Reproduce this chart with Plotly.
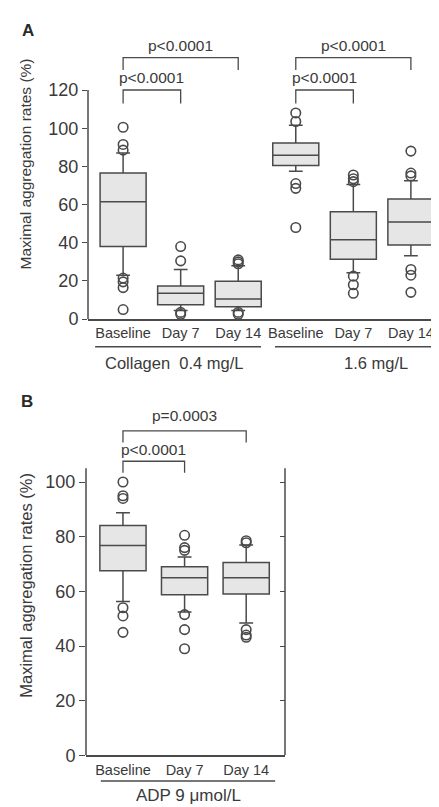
import plotly.graph_objects as go

# ---------------- data ----------------
A_labels = ["Baseline", "Day 7", "Day 14", "Baseline", "Day 7", "Day 14"]
A_q1 = [38.0, 7.5, 6.5, 80.5, 31.3, 38.8]
A_median = [61.5, 13.5, 10.5, 85.8, 41.5, 50.8]
A_q3 = [76.5, 17.3, 19.8, 92.3, 56.2, 62.9]
A_lowerfence = [23.0, 4.5, 4.5, 77.5, 24.3, 33.2]
A_upperfence = [87.0, 26.0, 28.0, 101.5, 70.5, 72.5]
A_outliers = [
    [100.5, 91.5, 88.5, 21.5, 19.5, 16.5, 5.0],
    [38.0, 30.5, 3.5, 2.5],
    [29.0, 30.0, 31.0, 3.5, 2.5],
    [108.0, 103.5, 71.0, 68.5, 48.0],
    [72.0, 73.5, 75.5, 22.5, 18.0, 13.5],
    [75.0, 76.5, 88.0, 26.0, 23.0, 14.0],
]
A_groups = ["Collagen  0.4 mg/L", "1.6 mg/L"]
A_compare = [(0, 1, "p<0.0001"), (0, 2, "p<0.0001"), (3, 4, "p<0.0001"), (3, 5, "p<0.0001")]
A_yticks = [0, 20, 40, 60, 80, 100, 120]

B_labels = ["Baseline", "Day 7", "Day 14"]
B_q1 = [67.5, 58.8, 59.0]
B_median = [76.8, 65.0, 65.0]
B_q3 = [84.1, 69.0, 70.6]
B_lowerfence = [56.3, 52.4, 48.4]
B_upperfence = [88.8, 72.6, 77.0]
B_outliers = [
    [100.0, 95.0, 94.0, 54.0, 51.0, 45.0],
    [80.5, 76.0, 75.0, 51.5, 46.0, 39.0],
    [78.5, 77.8, 46.0, 44.0, 43.2],
]
B_group = "ADP 9 \u03bcmol/L"
B_compare = [(0, 1, "p<0.0001"), (0, 2, "p=0.0003")]
B_yticks = [0, 20, 40, 60, 80, 100]

# ---------------- styles ----------------
W, H = 439, 807
FONT = "Liberation Sans, Arial, sans-serif"
INK = "#4a4a4a"
TXT = "#3a3a3a"
FILL = "#e6e6e6"


def py(px):  # pixel row -> paper y
    return 1 - px / H


def px_x(px):  # pixel column -> paper x
    return px / W


fig = go.Figure()

A_pos = list(range(len(A_labels)))
B_pos = list(range(len(B_labels)))


def add_boxes(pos, q1, med, q3, lo, hi, outl, xa, ya, ya_overlay, width):
    for i, p in enumerate(pos):
        fig.add_trace(go.Box(
            x=[p], q1=[q1[i]], median=[med[i]], q3=[q3[i]],
            lowerfence=[lo[i]], upperfence=[hi[i]],
            width=width, whiskerwidth=0.3, boxpoints=False,
            fillcolor=FILL, line=dict(color=INK, width=1.5),
            xaxis=xa, yaxis=ya, hoverinfo="skip",
        ))
    xs, ys = [], []
    for i, p in enumerate(pos):
        xs += [p] * len(outl[i])
        ys += outl[i]
    fig.add_trace(go.Scatter(
        x=xs, y=ys, mode="markers",
        marker=dict(symbol="circle-open", size=9.5, color=INK, line=dict(width=1.6, color=INK)),
        xaxis=xa, yaxis=ya_overlay, hoverinfo="skip",
    ))


add_boxes(A_pos, A_q1, A_median, A_q3, A_lowerfence, A_upperfence, A_outliers, "x", "y", "y3", 0.8)
add_boxes(B_pos, B_q1, B_median, B_q3, B_lowerfence, B_upperfence, B_outliers, "x2", "y2", "y4", 0.75)

tickfont = dict(family=FONT, size=18, color=TXT)
xtickfont = dict(family=FONT, size=14.5, color=TXT)

A_yrange = [0, 146]
B_yrange = [0, 128]

fig.update_layout(
    width=W, height=H,
    margin=dict(l=0, r=0, t=0, b=0),
    paper_bgcolor="white", plot_bgcolor="white",
    showlegend=False,
    xaxis=dict(domain=[px_x(80), px_x(438)], range=[-0.61, 5.61], anchor="y",
               tickvals=A_pos, ticktext=A_labels, ticks="", tickfont=xtickfont,
               showline=True, linecolor=INK, linewidth=1.5, showgrid=False, zeroline=False,
               ticklabelstandoff=0),
    yaxis=dict(domain=[py(315), py(32.8)], range=A_yrange, anchor="x",
               tickvals=A_yticks, ticks="outside", ticklen=5, tickwidth=1.3, tickcolor=INK,
               tickfont=tickfont, showgrid=False, zeroline=False, showline=False),
    yaxis3=dict(overlaying="y", side="right", anchor="x", range=A_yrange,
                tickvals=A_yticks, ticks="inside", ticklen=5, tickwidth=1.3, tickcolor=INK,
                showticklabels=False, showgrid=False, zeroline=False, showline=False),
    xaxis2=dict(domain=[px_x(78), px_x(277)], range=[-0.60, 2.63], anchor="y2",
                tickvals=B_pos, ticktext=B_labels, ticks="", tickfont=xtickfont,
                showline=True, linecolor=INK, linewidth=1.5, showgrid=False, zeroline=False,
                ticklabelstandoff=1),
    yaxis2=dict(domain=[py(756.7), py(402.5)], range=B_yrange, anchor="x2",
                tickvals=B_yticks, ticks="outside", ticklen=6, tickwidth=1.3, tickcolor=INK,
                tickfont=tickfont, showgrid=False, zeroline=False, showline=False),
    yaxis4=dict(overlaying="y2", side="right", anchor="x2", range=B_yrange,
                tickvals=B_yticks, ticks="inside", ticklen=5, tickwidth=1.3, tickcolor=INK,
                showticklabels=False, showgrid=False, zeroline=False, showline=False),
)

shapes = []
annotations = []

# spines (left and right), limited to the tick range
for xr, yr, top in [("x", "y", max(A_yticks)), ("x2", "y2", 105)]:
    for xd in (0, 1):
        shapes.append(dict(type="line", xref=f"{xr} domain", yref=yr, x0=xd, x1=xd, y0=0, y1=top,
                           line=dict(color=INK, width=1.5)))


def add_brackets(compare, xr, yr, levels, fs):
    for k, (i, j, txt) in enumerate(compare):
        top, leg, ty = levels[k]
        shapes.append(dict(type="path", xref=xr, yref=yr,
                           path=f"M {i},{leg} L {i},{top} L {j},{top} L {j},{leg}",
                           line=dict(color=INK, width=1.3)))
        annotations.append(dict(x=(i + j) / 2, y=ty, xref=xr, yref=yr, text=txt, showarrow=False,
                                font=dict(family=FONT, size=fs, color=TXT),
                                xanchor="center", yanchor="middle"))


add_brackets(A_compare, "x", "y", [(120, 113, 126.5), (137, 130.5, 143.3),
                                   (120, 113, 126.5), (137, 130.5, 143.3)], 15.5)
add_brackets(B_compare, "x2", "y2", [(107.6, 103.4, 111.9), (118.7, 114.5, 124.2)], 15.5)

# group underlines and labels
for x0, x1 in [(-0.486, 2.396), (2.639, 5.434)]:
    shapes.append(dict(type="line", xref="x", yref="paper", x0=x0, x1=x1, y0=py(343), y1=py(343),
                       line=dict(color=INK, width=1.6)))
annotations.append(dict(x=0.885, y=py(359), xref="x", yref="paper", text=A_groups[0], showarrow=False,
                        font=dict(family=FONT, size=16.5, color=TXT), xanchor="center", yanchor="middle"))
annotations.append(dict(x=4.39, y=py(359), xref="x", yref="paper", text=A_groups[1], showarrow=False,
                        font=dict(family=FONT, size=16.5, color=TXT), xanchor="center", yanchor="middle"))
shapes.append(dict(type="line", xref="x2", yref="paper", x0=-0.36, x1=2.47, y0=py(782.7), y1=py(782.7),
                   line=dict(color=INK, width=1.6)))
annotations.append(dict(x=1.06, y=py(797), xref="x2", yref="paper", text=B_group, showarrow=False,
                        font=dict(family=FONT, size=17, color=TXT), xanchor="center", yanchor="middle"))

# axis titles
for yc, fs in [(158.5, 15.5), (585, 16.5)]:
    annotations.append(dict(x=px_x(18), y=py(yc), xref="paper", yref="paper",
                            text="Maximal aggregation rates (%)", textangle=-90, showarrow=False,
                            font=dict(family=FONT, size=fs, color=TXT), xanchor="center", yanchor="middle"))

# panel letters
for txt, xc, yc in [("A", 20, 23), ("B", 19, 398)]:
    annotations.append(dict(x=px_x(xc), y=py(yc), xref="paper", yref="paper", text=f"<b>{txt}</b>",
                            showarrow=False, font=dict(family=FONT, size=17, color="#2a2a2a"),
                            xanchor="center", yanchor="middle"))

fig.update_layout(shapes=shapes, annotations=annotations)

fig.write_html("out.html")
